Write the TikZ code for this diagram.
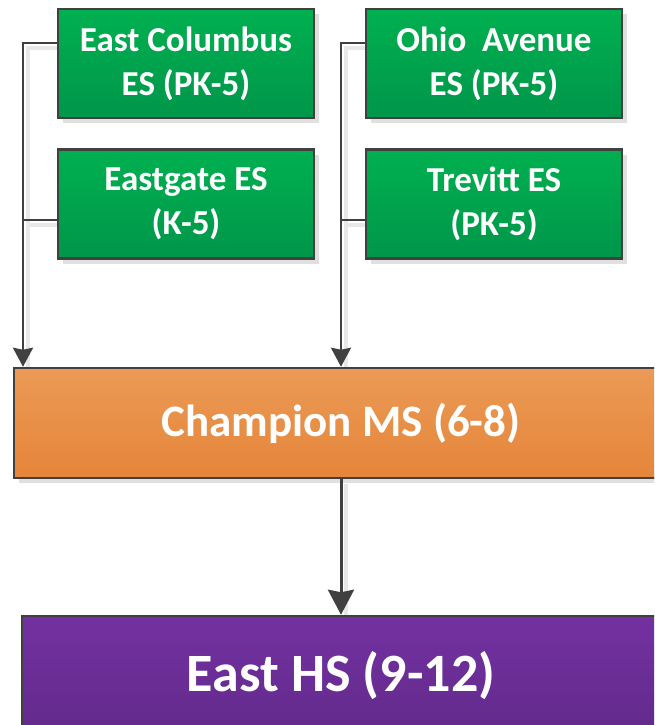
\documentclass[tikz,border=0pt]{standalone}
\usepackage{fontspec}
\setmainfont{Carlito}
\usetikzlibrary{arrows.meta,shadows}
\definecolor{edgegray}{HTML}{404040}
\definecolor{greenT}{HTML}{00B050}
\definecolor{greenB}{HTML}{00964A}
\definecolor{orangeT}{HTML}{EB9A55}
\definecolor{orangeB}{HTML}{E5853A}
\definecolor{purpleT}{HTML}{7331A1}
\definecolor{purpleB}{HTML}{622A8A}
\pgfdeclarelayer{background}
\pgfsetlayers{background,main}
\begin{document}
\begin{tikzpicture}[x=1pt,y=-1pt,
  boxshadow/.style={drop shadow={shadow xshift=5pt,shadow yshift=-5pt,fill=black!12,opacity=1}},
  basebox/.style={draw=edgegray,line width=2.5pt,inner sep=0pt,align=center,text=white,boxshadow},
  school/.style={basebox,top color=greenT,bottom color=greenB,minimum width=256pt,minimum height=109pt,
    font=\bfseries\fontsize{35}{44}\selectfont},
  msbox/.style={basebox,top color=orangeT,bottom color=orangeB,minimum width=654pt,minimum height=110pt,
    font=\bfseries\fontsize{45}{55}\selectfont},
  hsbox/.style={basebox,top color=purpleT,bottom color=purpleB,minimum width=638pt,minimum height=120pt,
    font=\bfseries\fontsize{54}{64}\selectfont},
  conn/.style={draw=edgegray,line width=2.5pt},
  arrowconn/.style={conn,-{Stealth[width=20pt,length=19pt,inset=2pt]}},
  bigarrow/.style={conn,line width=3pt,-{Stealth[width=26pt,length=25pt,inset=2.5pt]}},
  connshadow/.style={draw=black!9,line width=4.5pt,transform canvas={shift={(5pt,-5pt)}}}]
\useasboundingbox (0,0) rectangle (654,725);
\clip (0,0) rectangle (654,725);
\coordinate (lbus) at (23,0);
\node[school] (ec) at (186,63.5) {East Columbus\\ES (PK-5)};
\node[school] (eg) at (186,204) {Eastgate ES\\(K-5)};
\node[school] (oa) at (494,63.5) {Ohio\ \ Avenue\\ES (PK-5)};
\node[school] (tr) at (494,204) {Trevitt ES\\(PK-5)};
\node[msbox] (ms) at (341,423) {Champion MS (6-8)};
\node[hsbox] (hs) at (341,676) {East HS (9-12)};
\begin{pgfonlayer}{background}
\draw[connshadow] ([yshift=20.5pt]ec.west) -| (lbus |- ms.north);
\draw[connshadow] ([yshift=-16pt]eg.west) -- ([yshift=-16pt]eg.west -| lbus);
\draw[connshadow] ([yshift=20.5pt]oa.west) -| (ms.north);
\draw[connshadow] ([yshift=-16pt]tr.west) -- ([yshift=-16pt]tr.west -| ms.north);
\draw[connshadow] (ms.south) -- (hs.north);
\end{pgfonlayer}
\draw[arrowconn] ([yshift=20.5pt]ec.west) -| (lbus |- ms.north);
\draw[conn] ([yshift=-16pt]eg.west) -- ([yshift=-16pt]eg.west -| lbus);
\draw[arrowconn] ([yshift=20.5pt]oa.west) -| (ms.north);
\draw[conn] ([yshift=-16pt]tr.west) -- ([yshift=-16pt]tr.west -| ms.north);
\draw[bigarrow] (ms.south) -- (hs.north);
\end{tikzpicture}
\end{document}
